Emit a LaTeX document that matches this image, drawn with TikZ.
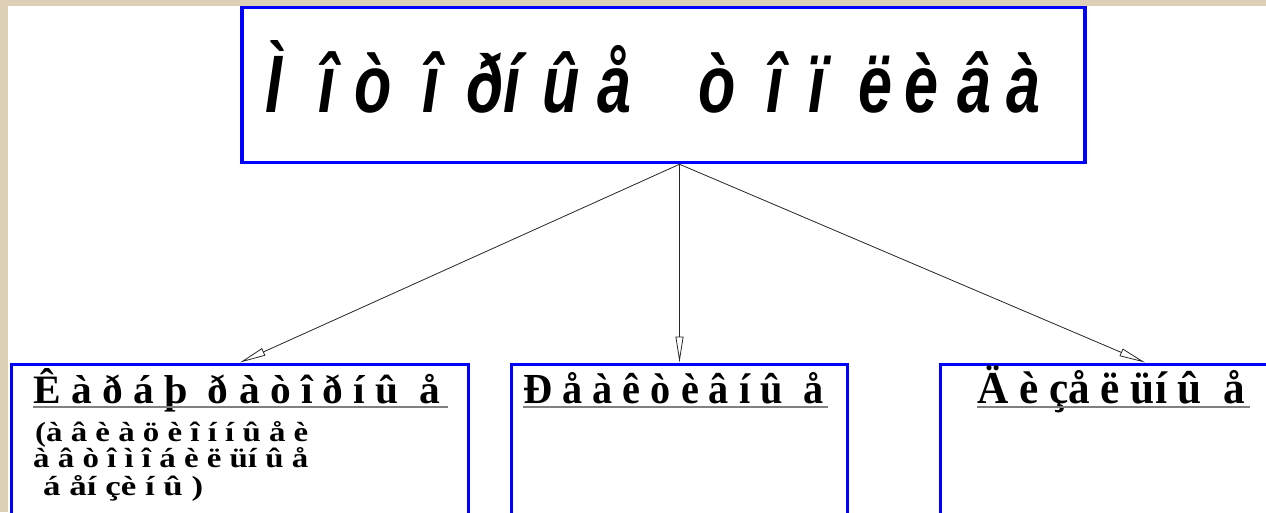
\documentclass[tikz,border=0pt]{standalone}
\usepackage{fontspec}
\setmainfont{Liberation Serif}
\newfontfamily\titlefont{Liberation Sans}
\usetikzlibrary{arrows.meta,positioning}
\definecolor{slblue}{RGB}{0,0,255}
\definecolor{slbeige}{RGB}{221,208,183}
\definecolor{slgray}{RGB}{128,128,128}
\newcommand\fitto[3]{\resizebox{#1pt}{#2pt}{#3}}
\newcommand\tg[1]{\hspace{#1em}}
\tikzset{
  mcard/.style={draw=slblue, line width=3.5pt, fill=white, inner sep=0pt},
  scard/.style={draw=slblue, line width=3.5pt, fill=white, inner sep=0pt, anchor=north,
    minimum height=220pt},
  arr/.style={-{Triangle[open,length=26pt,width=8pt]}, line width=0.8pt, black!85},
  htext/.style={anchor=base west, inner sep=0pt, font=\bfseries},
  uline/.style={slgray, line width=1.6pt}
}

\begin{document}
\begin{tikzpicture}[x=1pt,y=-1pt]
  \clip (0,0) rectangle (1266,512);
  \fill[slbeige] (0,0) rectangle (1266,512);
  \fill[white] (8,6) rectangle (1266,512);
  % top box
  \node[mcard, minimum width=843pt, minimum height=155pt] (title) at (663.5,85) {};
  \node[htext, font=\titlefont\bfseries\itshape] (ttl) at (265,112)
    {\fitto{775}{72}{Ì\tg{.6}î\tg{.3}ò\tg{.5}î\tg{.45}ðí\tg{.35}û\tg{.3}å\tg{1.1}ò\tg{.5}î\tg{.4}ï\tg{.55}ë\tg{.2}è\tg{.3}â\tg{.25}à}};
  \coordinate (hub) at ([xshift=16pt]title.south);
  % bottom boxes
  \node[scard, minimum width=457pt] (lbox) at (240,362.5) {};
  \node[scard, minimum width=336pt] (mbox) at (679.5,362.5) {};
  \node[scard, minimum width=409pt] (rbox) at (1145,362.5) {};
  \draw[arr] (hub) -- (lbox.north);
  \draw[arr] (hub) -- (mbox.north);
  \draw[arr] (hub) -- (rbox.north);
  % headings
  \node[htext] (lhead) at (33,403) {\fitto{407}{35}{Ê à ð á þ\ \ ð à ò î ð í û\ \ å}};
  \draw[uline] ([yshift=-4pt]lhead.base west) -- +(415,0);
  \node[htext] (mhead) at (523,403) {\fitto{300}{31}{Ð å à ê ò è â í\ û\ \ å}};
  \draw[uline] ([yshift=-4pt]mhead.base west) -- +(305,0);
  \node[htext] (rhead) at (977,403) {\fitto{268}{38}{Ä è çå ë üí\ û\ \ å}};
  \draw[uline] ([yshift=-4pt]rhead.base west) -- +(273,0);
  % note under the left heading
  \node[htext] (lsuba) at (35,441) {\fitto{273}{20}{(à â è à ö è î í í û\ å è}};
  \node[htext] (lsubb) at (33,467) {\fitto{275}{20}{à â ò î ì\ î á è ë üí û\ å}};
  \node[htext] (lsubc) at (43,495) {\fitto{160}{20}{á åí çè í û )}};
\end{tikzpicture}
\end{document}
